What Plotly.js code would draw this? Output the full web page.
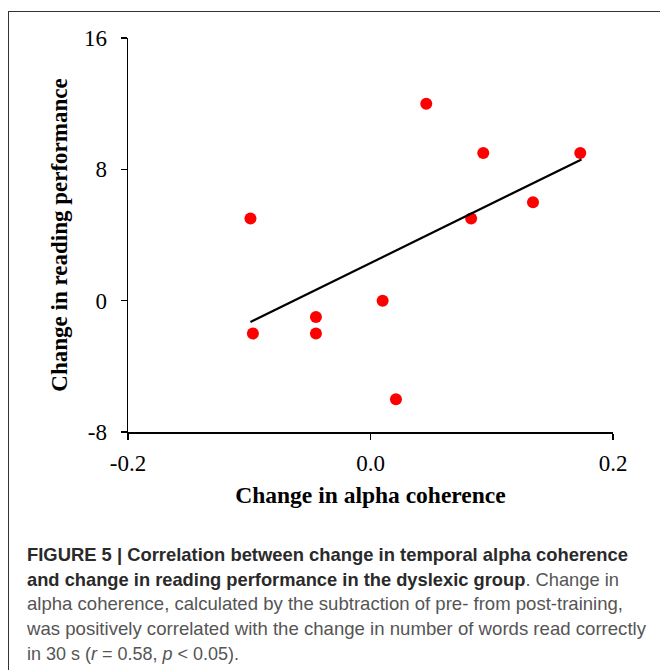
<!DOCTYPE html>
<html>
<head>
<meta charset="utf-8">
<script src="https://cdn.plot.ly/plotly-3.0.1.min.js"></script>
<style>
  html, body { margin: 0; padding: 0; background: #fff; width: 660px; height: 670px; overflow: hidden; }
  #frame { position: absolute; left: 8px; top: 11px; width: 660px; height: 680px; border-left: 1.5px solid #333; border-top: 1.5px solid #333; }
  #chart { position: absolute; left: 0; top: 0; width: 660px; height: 520px; }
  #caption { position: absolute; left: 27px; top: 543px; font-family: "Liberation Sans", "Roboto", Arial, sans-serif; font-size: 19px; line-height: 24.7px; color: #555; }
  #caption .ln { white-space: nowrap; transform-origin: 0 50%; width: max-content; }
  #caption b { color: #2a2a2a; }
</style>
</head>
<body>
<div id="frame"></div>
<div id="chart"></div>
<div id="caption">
  <div class="ln" data-w="601"><b>FIGURE 5 | Correlation between change in temporal alpha coherence</b></div>
  <div class="ln" data-w="592"><b>and change in reading performance in the dyslexic group</b>. Change in</div>
  <div class="ln" data-w="596">alpha coherence, calculated by the subtraction of pre- from post-training,</div>
  <div class="ln" data-w="619">was positively correlated with the change in number of words read correctly</div>
  <div class="ln" data-w="212">in 30 s (<i>r</i> = 0.58, <i>p</i> &lt; 0.05).</div>
</div>
<script>
// Data
const coherenceChange = [-0.099, -0.097, -0.045, -0.045, 0.010, 0.021, 0.046, 0.083, 0.093, 0.134, 0.173];
const readingChange   = [5, -2, -1, -2, 0, -6, 12, 5, 9, 6, 9];
const trendX = [-0.099, 0.174];
const trendY = [-1.3, 8.6];
const xTickVals = [-0.2, 0.0, 0.2];
const xTickText = ['-0.2', '0.0', '0.2'];
const yTickVals = [-8, 0, 8, 16];
const yTickText = ['-8', '0', '8', '16'];

// Fit caption lines to the widths they occupy in the original figure
document.querySelectorAll('#caption .ln').forEach(el => {
  const w = el.getBoundingClientRect().width;
  const target = parseFloat(el.dataset.w);
  if (w > 0) el.style.transform = 'scaleX(' + (target / w) + ')';
});

const traces = [
  { x: coherenceChange, y: readingChange, mode: 'markers', type: 'scatter',
    marker: { color: '#ff0000', size: 12 }, hoverinfo: 'x+y' },
  { x: trendX, y: trendY, mode: 'lines', type: 'scatter',
    line: { color: '#000', width: 2.2 }, hoverinfo: 'skip' }
];

const fontSerif = '"Liberation Serif", "Times New Roman", serif';
const layout = {
  width: 660, height: 520,
  margin: { l: 128, r: 47, t: 38, b: 88 },
  paper_bgcolor: 'rgba(0,0,0,0)', plot_bgcolor: 'rgba(0,0,0,0)',
  showlegend: false,
  font: { family: fontSerif, size: 22, color: '#000' },
  xaxis: {
    range: [-0.2, 0.2], tickvals: xTickVals, ticktext: xTickText,
    showline: true, linecolor: '#000', linewidth: 1.5, zeroline: false, showgrid: false,
    ticks: 'outside', ticklen: 6, tickwidth: 1.2, tickcolor: '#000',
    ticklabelstandoff: 4,
    tickfont: { family: fontSerif, size: 23, color: '#000' },
    title: { text: '<b>Change in alpha coherence</b>', standoff: 11, font: { family: fontSerif, size: 23.5, color: '#000' } },
    automargin: false
  },
  yaxis: {
    range: [-8, 16], tickvals: yTickVals, ticktext: yTickText,
    showline: true, linecolor: '#000', linewidth: 1.5, zeroline: false, showgrid: false,
    ticks: 'outside', ticklen: 6, tickwidth: 1.2, tickcolor: '#000',
    ticklabelstandoff: 9,
    tickfont: { family: fontSerif, size: 23, color: '#000' },
    title: { text: '<b>Change in reading performance</b>', standoff: 10, font: { family: fontSerif, size: 23, color: '#000' } },
    automargin: false
  }
};
Plotly.newPlot('chart', traces, layout, { staticPlot: true, displayModeBar: false });
</script>
</body>
</html>
